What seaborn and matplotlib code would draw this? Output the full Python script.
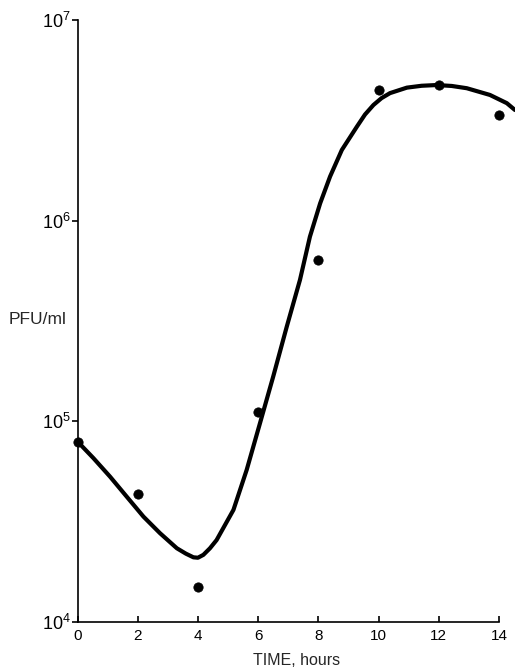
import matplotlib
matplotlib.use('Agg')
import matplotlib.pyplot as plt
import seaborn as sns
import pandas as pd
from matplotlib.ticker import NullLocator, FixedLocator, LogFormatterMathtext

# datos medidos (puntos)
horas = [0, 2, 4, 6, 8, 10, 12, 14]
pfu = [7.9e4, 4.35e4, 1.5e4, 1.11e5, 6.4e5, 4.48e6, 4.74e6, 3.37e6]

# curva dibujada a mano
curva_horas = [0.0, 0.53, 1.08, 1.63, 2.19, 2.74, 3.30, 3.60, 3.85, 4.00, 4.18, 4.40,
               4.62, 5.18, 5.62, 6.06, 6.50, 6.95, 7.39, 7.72, 8.06, 8.39, 8.78, 9.28,
               9.55, 9.83, 10.10, 10.38, 10.94, 11.43, 11.93, 12.43, 12.93, 13.70,
               14.26, 14.53]
curva_pfu = [7.93e4, 6.55e4, 5.30e4, 4.22e4, 3.35e4, 2.77e4, 2.33e4, 2.19e4, 2.10e4,
             2.09e4, 2.16e4, 2.33e4, 2.56e4, 3.62e4, 5.73e4, 9.77e4, 1.67e5, 2.96e5,
             5.07e5, 8.32e5, 1.22e6, 1.66e6, 2.25e6, 2.94e6, 3.38e6, 3.77e6, 4.08e6,
             4.32e6, 4.60e6, 4.70e6, 4.74e6, 4.69e6, 4.57e6, 4.23e6, 3.85e6, 3.56e6]

xticks = [0, 2, 4, 6, 8, 10, 12, 14]
yticks = [1e4, 1e5, 1e6, 1e7]

sns.set_style('ticks')
plt.rcParams['font.family'] = ['Liberation Sans', 'DejaVu Sans']
plt.rcParams['mathtext.fontset'] = 'custom'
plt.rcParams['mathtext.rm'] = 'Liberation Sans'

puntos = pd.DataFrame({'horas': horas, 'pfu': pfu})
curva = pd.DataFrame({'horas': curva_horas, 'pfu': curva_pfu})

fig = plt.figure(figsize=(5.15, 6.68), dpi=100)
ax = fig.add_axes([0.1505, 0.0689, 0.8184, 0.9012])

sns.lineplot(data=curva, x='horas', y='pfu', ax=ax, color='black', lw=3.0,
             clip_on=False, sort=False, solid_joinstyle='round',
             solid_capstyle='round')
sns.scatterplot(data=puntos, x='horas', y='pfu', ax=ax, color='black', s=45,
                edgecolor='black', zorder=3, clip_on=False)

ax.set_yscale('log')
ax.set_ylim(1e4, 1e7)
ax.set_xlim(0, 14)
ax.yaxis.set_major_locator(FixedLocator(yticks))
ax.yaxis.set_major_formatter(LogFormatterMathtext())
ax.yaxis.set_minor_locator(NullLocator())
ax.set_xticks(xticks)

sns.despine(ax=ax)
for s in ['left', 'bottom']:
    ax.spines[s].set_linewidth(1.2)
    ax.spines[s].set_color('black')

ax.tick_params(axis='y', direction='out', length=4, width=1.2, labelsize=13, pad=1,
               colors='black')
ax.tick_params(axis='x', direction='in', length=4, width=1.2, labelsize=11, pad=5,
               colors='black')

ax.set_xlabel('TIME, hours', fontsize=11.5)
ax.xaxis.set_label_coords(0.52, -0.052)
ax.set_ylabel('PFU/ml', rotation=0, fontsize=12.5)
ax.yaxis.set_label_coords(-0.094, 0.49)

fig.savefig('out.png', dpi=100)
